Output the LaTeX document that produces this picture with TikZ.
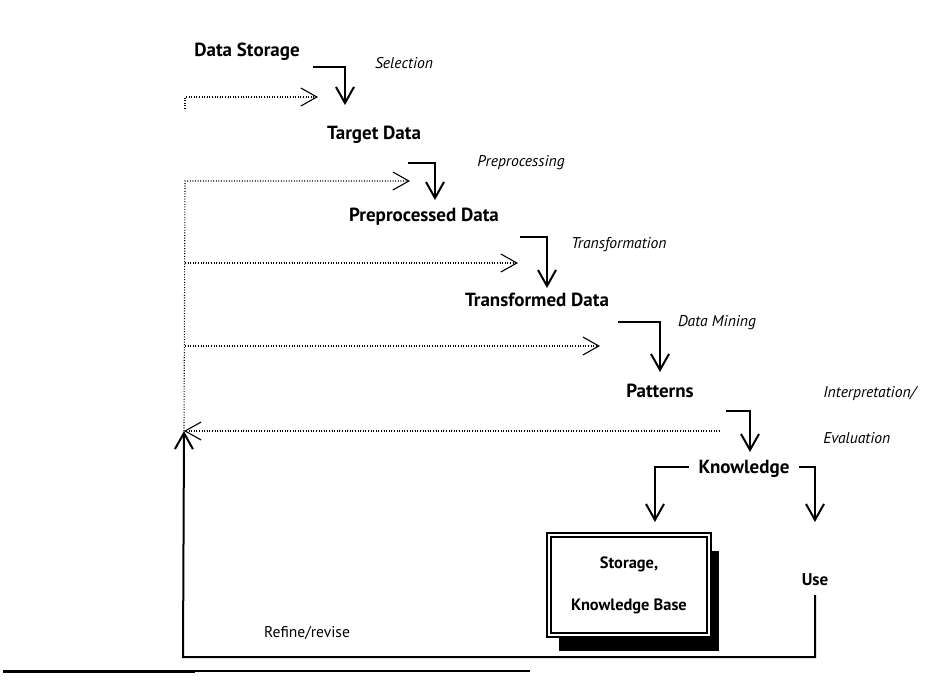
\documentclass[tikz,border=0pt]{standalone}
\usepackage{fontspec}
\setmainfont{PT Sans}
\usetikzlibrary{arrows.meta, positioning, calc, shadows}

\begin{document}
\begin{tikzpicture}[
    x=0.5pt, y=-0.5pt,
    >={Straight Barb[length=8pt, width=9pt]},
    stage/.style={font=\fontsize{9.5}{11}\selectfont\bfseries, inner sep=1pt},
    proc/.style={font=\fontsize{7.8}{9}\selectfont\itshape, inner sep=1pt},
    flow/.style={->, line width=1pt},
    back/.style={->, dash pattern=on 0.5pt off 0.8pt, line width=0.55pt},
    kbox/.style={draw, double, double distance=1pt, line width=1.2pt, fill=white,
        minimum width=80pt, minimum height=50pt, align=center,
        drop shadow={shadow xshift=5pt, shadow yshift=-8pt, fill=black, opacity=1}},
]
    \useasboundingbox (0,0) rectangle (943,682);

    % stages of the process
    \node[stage] (storage) at (247,52) {Data Storage};
    \node[stage] (target) at (374,135) {Target Data};
    \node[stage] (preproc) at (424,217) {Preprocessed Data};
    \node[stage] (transf) at (537,300) {Transformed Data};
    \node[stage] (patterns) at (660,391) {Patterns};
    \node[stage] (knowledge) at (744,469) {Knowledge};
    \node[stage, font=\fontsize{8.5}{10}\selectfont\bfseries] (use) at (815,580) {Use};
    \node[stage, kbox, font=\fontsize{8.2}{21}\selectfont\bfseries] (kbase) at (629,585) {Storage,\\Knowledge Base};

    % steps between them
    \node[proc] (sel) at (404,63) {Selection};
    \node[proc] (prep) at (521,163) {Preprocessing};
    \node[proc] (trans) at (619,245) {Transformation};
    \node[proc] (mining) at (717,323) {Data Mining};
    \node[proc, anchor=west, align=left, font=\fontsize{7.8}{23}\selectfont\itshape] (interp) at (821,415) {Interpretation/\\Evaluation};
    \node[font=\fontsize{7.8}{9}\selectfont, inner sep=1pt] (refine) at (307,633) {Refine/revise};

    % main flow
    \draw[flow] ($(storage)+(66,15)$) -| ($(target)+(-29,-30)$);
    \draw[flow] ($(target)+(34,28)$) -| ($(preproc)+(11,-17)$);
    \draw[flow] ($(preproc)+(96,20)$) -| ($(transf)+(10,-12)$);
    \draw[flow] ($(transf)+(81,22)$) -| ($(patterns)+(0,-19)$);
    \draw[flow] ($(patterns)+(66,20)$) -| ($(knowledge)+(6,-17)$);
    \draw[flow] ($(knowledge)+(-55,-2)$) -| ($(kbase)+(26,-63)$);
    \draw[flow] ($(knowledge)+(55,-2)$) -| ($(use)+(0,-58)$);

    % refine/revise loop
    \coordinate (corner) at (183,657);
    \coordinate (rail) at (184,431);
    \draw[flow] ($(use)+(0,15)$) |- (corner) -- (rail);

    \coordinate (r1) at (185,97);
    \coordinate (a1) at (318,97);
    \coordinate (r2) at (185,181);
    \coordinate (a2) at (410,181);
    \coordinate (r3) at (185,263);
    \coordinate (a3) at (518,263);
    \coordinate (r4) at (185,346);
    \coordinate (a4) at (600,346);
    \coordinate (e5) at (720,431);
    \draw[back] ($(r1)+(0,12)$) -- (r1) -- (a1);
    \draw[back] (rail) -- (r2) -- (a2);
    \draw[back] (r3) -- (a3);
    \draw[back] (r4) -- (a4);
    \draw[back] (e5) -- (rail);

    % rule under the figure
    \draw[line width=1.5pt] (3,671) -- (195,671);
    \draw[line width=0.7pt] (195,671) -- (530,671);
\end{tikzpicture}
\end{document}
